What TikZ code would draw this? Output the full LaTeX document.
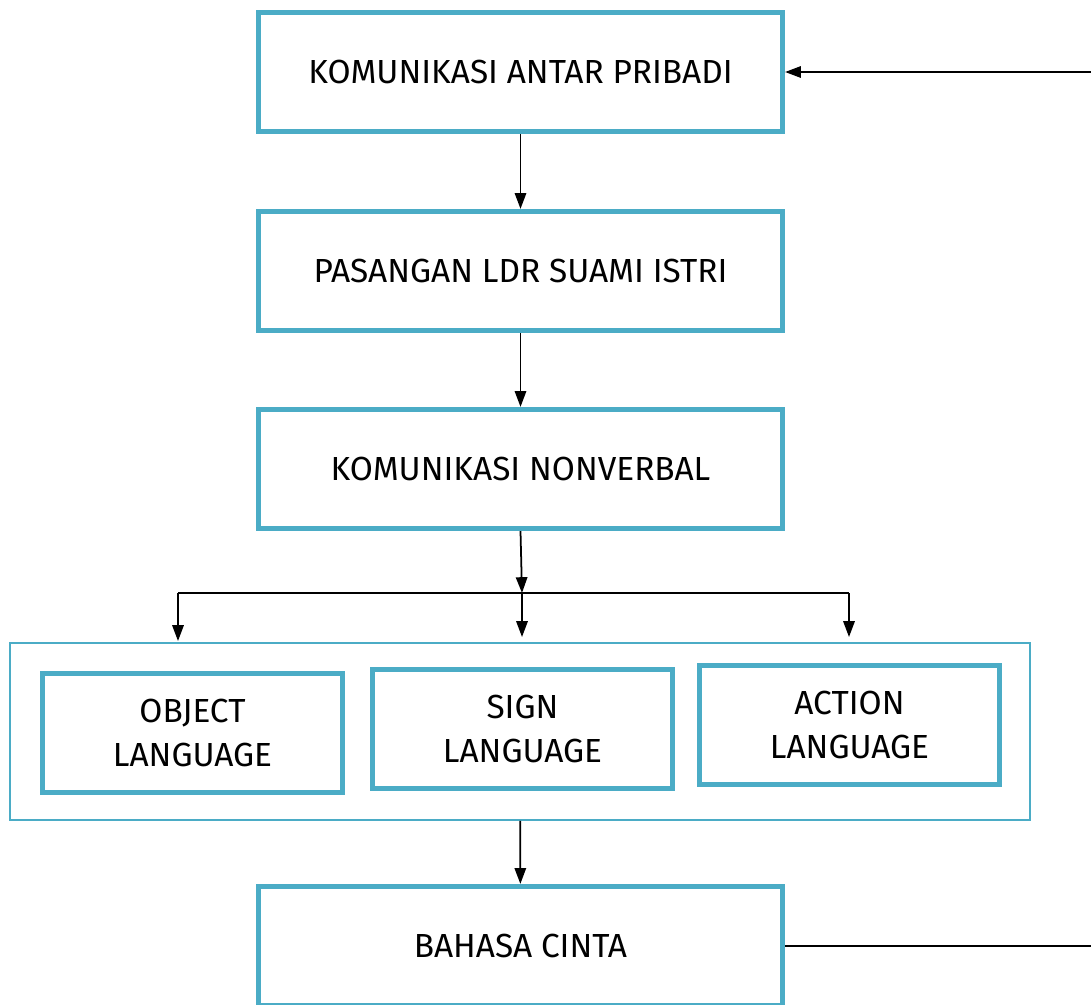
\documentclass[tikz,border=0pt]{standalone}
\usepackage{fontspec}
\setmainfont{Fira Sans}
\usetikzlibrary{arrows.meta}
\definecolor{tealbox}{HTML}{4BACC6}
\begin{document}
\begin{tikzpicture}[x=0.02cm, y=-0.02cm,
        bigbox/.style={draw=tealbox, line width=3pt, minimum width=10.48cm, minimum height=2.38cm, font=\fontsize{19}{24}\selectfont, align=center},
        smallbox/.style={draw=tealbox, line width=3pt, minimum width=6cm, minimum height=2.38cm, font=\fontsize{19}{24.5}\selectfont, align=center},
        link/.style={-{Triangle[length=9pt, width=6.5pt]}, line width=1pt}]
    \useasboundingbox (0,0) rectangle (1091,1004);

    \node[bigbox] (kap) at (520.5, 72) {KOMUNIKASI ANTAR PRIBADI};
    \node[bigbox] (ldr) at (520.5, 271) {PASANGAN LDR SUAMI ISTRI};
    \node[bigbox] (nonverbal) at (520.5, 469) {KOMUNIKASI NONVERBAL};

    \node[draw=tealbox, line width=0.9pt, minimum width=20.4cm, minimum height=3.54cm] (group) at (520, 731.5) {};
    \node[smallbox] (object) at (192.5, 733) {OBJECT\\LANGUAGE};
    \node[smallbox] (sign) at (522.5, 729) {SIGN\\LANGUAGE};
    \node[smallbox] (action) at (849.5, 725) {ACTION\\LANGUAGE};

    \node[bigbox] (cinta) at (520.5, 946) {BAHASA CINTA};

    \coordinate (split) at (522, 593);
    \coordinate (splitL) at (178, 593);
    \coordinate (splitR) at (849, 593);
    \coordinate (back) at (1120, 72);

    \draw[link] (kap) -- (ldr);
    \draw[link] (ldr) -- (nonverbal);
    \draw[link] (nonverbal.south) -- (split);
    \draw[line width=1pt] (splitL) -- (splitR);
    \draw[link] (splitL) -- (178, 641);
    \draw[link] (split) -- (522, 637);
    \draw[link] (splitR) -- (849, 637);
    \draw[link] (group) -- (cinta);
    \draw[link] (cinta.east) -| (back) -- (kap.east);
\end{tikzpicture}
\end{document}
